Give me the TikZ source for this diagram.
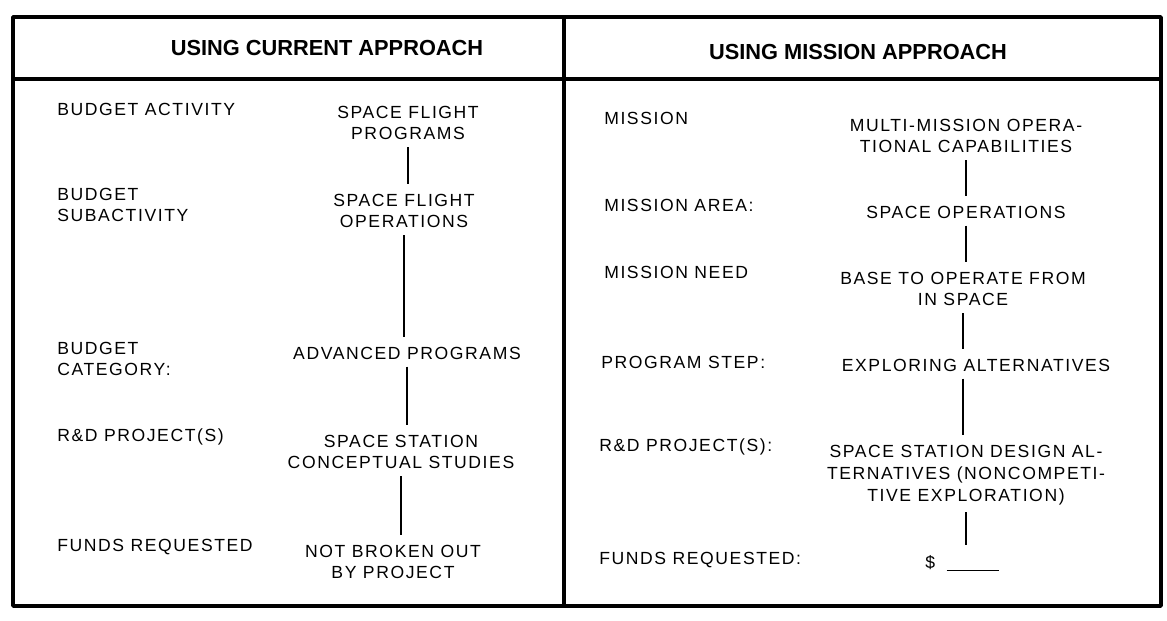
\documentclass[tikz,border=0pt]{standalone}
\usepackage{fontspec}
\setmainfont{Liberation Sans}
\usetikzlibrary{positioning}

\begin{document}
\begin{tikzpicture}[x=0.025cm,y=-0.025cm,
      frame/.style={line width=2.6pt,line cap=round,line join=round},
      head/.style={inner sep=0pt,font=\fontsize{15.5}{18}\selectfont\bfseries},
      lbl/.style={anchor=west,align=left,inner sep=0pt,
        font=\fontsize{12.5}{15.5}\selectfont\addfontfeatures{LetterSpace=9}},
      val/.style={align=center,inner sep=4pt,
        font=\fontsize{12.5}{15.5}\selectfont\addfontfeatures{LetterSpace=9}},
      link/.style={line width=0.9pt,shorten <=1pt,shorten >=3pt}] % current vs. mission budget breakdown
  \useasboundingbox (0,0) rectangle (1167,620);
  \draw[frame] (13,17) rectangle (1161,606);
  \draw[frame] (564,17) -- (564,606);
  \draw[frame] (13,79) -- (1161,79);

  \node[head] (hcur) at (327,48) {USING CURRENT APPROACH};
  \node[head] (hmis) at (858,52) {USING MISSION APPROACH};

  % current approach
  \node[lbl] (ba) at (57,109) {BUDGET ACTIVITY};
  \node[lbl] (bs) at (57,205) {BUDGET\\SUBACTIVITY};
  \node[lbl] (bc) at (57,359) {BUDGET\\CATEGORY:};
  \node[lbl] (rd) at (57,437) {R\&D PROJECT(S)};
  \node[lbl] (fr) at (57,547) {FUNDS REQUESTED};

  \node[val] (sfp) at (408,123) {SPACE FLIGHT\\PROGRAMS};
  \node[val] (sfo) at (404,211) {SPACE FLIGHT\\OPERATIONS};
  \node[val] (adv) at (407,353) {ADVANCED PROGRAMS};
  \node[val] (ssc) at (401,452) {SPACE STATION\\CONCEPTUAL STUDIES};
  \node[val] (nbo) at (393,562) {NOT BROKEN OUT\\BY PROJECT};

  \draw[link] (sfp.south) -- (sfp.south |- sfo.north);
  \draw[link] (sfo.south) -- (sfo.south |- adv.north);
  \draw[link] (adv.south) -- (adv.south |- ssc.north);
  \draw[link] (ssc.south) -- (ssc.south |- nbo.north);

  % mission approach
  \node[lbl] (mi) at (604,118) {MISSION};
  \node[lbl] (ma) at (604,205) {MISSION AREA:};
  \node[lbl] (mn) at (604,272) {MISSION NEED};
  \node[lbl] (ps) at (601,362) {PROGRAM STEP:};
  \node[lbl] (rp) at (599,447) {R\&D PROJECT(S):};
  \node[lbl] (fq) at (599,560) {FUNDS REQUESTED:};

  \node[val] (mmo) at (966,136) {MULTI-MISSION OPERA-\\TIONAL CAPABILITIES};
  \node[val] (spo) at (966,212) {SPACE OPERATIONS};
  \node[val] (bto) at (963,289) {BASE TO OPERATE FROM\\IN SPACE};
  \node[val] (exa) at (976,365) {EXPLORING ALTERNATIVES};
  \node[val] (ssd) at (966,475) {SPACE STATION DESIGN AL-\\TERNATIVES (NONCOMPETI-\\TIVE EXPLORATION)};
  \node[val] (dol) at (962,563) {\$\hspace{8pt}\rule[-2pt]{37pt}{0.6pt}};

  \draw[link] (mmo.south) -- (mmo.south |- spo.north);
  \draw[link] (spo.south) -- (spo.south |- bto.north);
  \draw[link] (bto.south) -- (bto.south |- exa.north);
  \draw[link] (bto.south |- exa.south) -- (bto.south |- ssd.north);
  \draw[link] (ssd.south) -- (ssd.south |- dol.north);
\end{tikzpicture}
\end{document}
